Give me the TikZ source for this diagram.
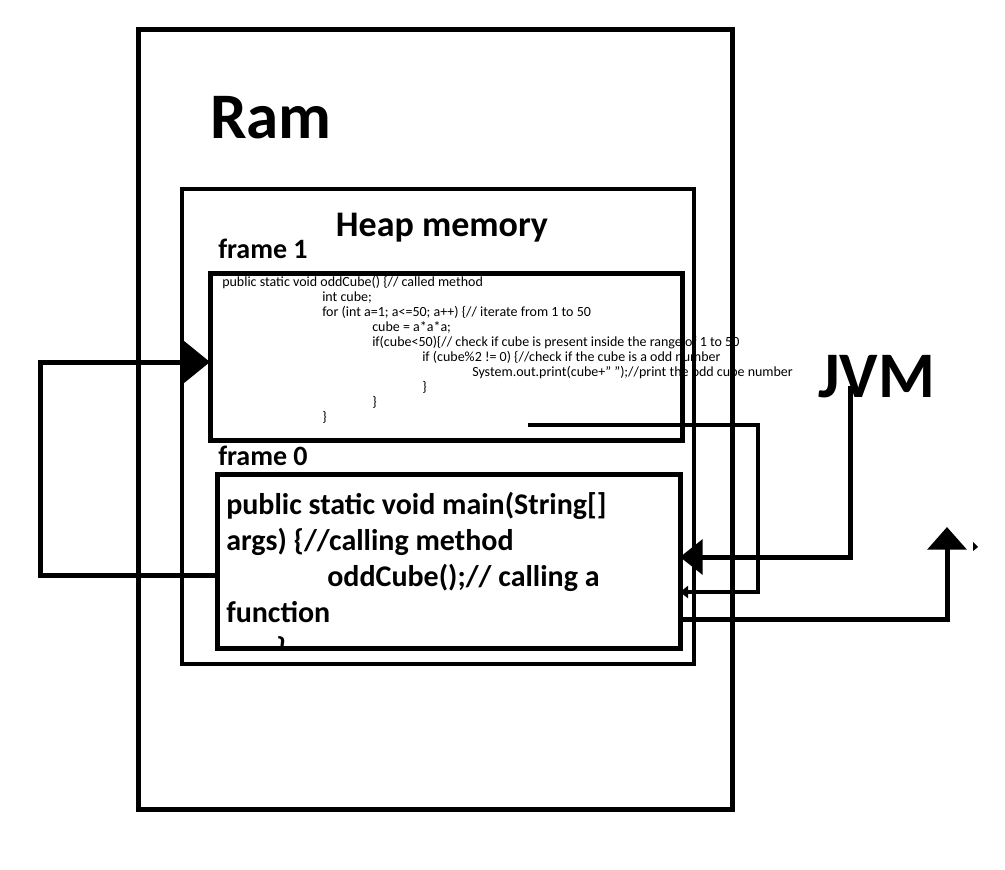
\documentclass[tikz,border=0pt]{standalone}
\usepackage{fontspec}
\setmainfont{Carlito}
\usetikzlibrary{arrows.meta,positioning,calc}

\begin{document}
\begin{tikzpicture}[
  x=0.75pt, y=-0.75pt,
  box/.style={draw, line width=3.75pt, inner sep=0pt, outer sep=0pt},
  wire/.style={line width=3.75pt},
  big/.style={font=\bfseries\fontsize{48.75}{52}\selectfont, inner sep=0pt, anchor=base west},
  lbl/.style={font=\bfseries\fontsize{21}{24}\selectfont, inner sep=0pt, anchor=base west},
  code/.style={align=left, inner sep=0pt, anchor=base west}
]
\fill[white] (0,0) rectangle (1005,869);
\useasboundingbox (0,0) rectangle (1005,869);

% code of the called method (drawn first, the lines run over it)
% (base of a multi-line node = last line)
\node[code, font=\fontsize{10.5}{11.25}\selectfont] (oddcode) at (222,421)
  {public static void oddCube() \{// called method\\
   \hspace*{75pt}int cube;\\
   \hspace*{75pt}for (int a=1; a<=50; a++) \{// iterate from 1 to 50\\
   \hspace*{112.5pt}cube = a*a*a;\\
   \hspace*{112.5pt}if(cube<50)\{// check if cube is present inside the range of 1 to 50\\
   \hspace*{150pt}if (cube\%2 != 0) \{//check if the cube is a odd number\\
   \hspace*{187.5pt}System.out.print(cube+" ");//print the odd cube number\\
   \hspace*{150pt}\}\\
   \hspace*{112.5pt}\}\\
   \hspace*{75pt}\}};

% boxes
\node[box, minimum width=0.75*594pt, minimum height=0.75*780pt] (ram) at (435,419) {};
\node[box, line width=3pt, minimum width=0.75*512pt, minimum height=0.75*475pt] (heap) at (438,426.5) {};
\node[box, minimum width=0.75*472pt, minimum height=0.75*167pt] (frame1) at (446,356.5) {};
\node[box, minimum width=0.75*463pt, minimum height=0.75*174pt] (frame0) at (448.5,561.5) {};

\begin{scope}
  \clip (frame0.north west) rectangle (frame0.south east);
  \node[code, font=\bfseries\fontsize{22.5}{27}\selectfont] (maincode) at (226,658)
    {public static void main(String[]\\
     args) \{//calling method\\
     \hspace*{75.75pt}oddCube();// calling a\\
     function\\
     \hspace*{37.5pt}\}};
\end{scope}

% labels
\node[big] (ramlbl) at (210,138) {Ram};
\node[big] (jvm) at (818,397) {JVM};
\node[font=\bfseries\fontsize{27}{30}\selectfont, inner sep=0pt, anchor=base] (heaplbl) at (442,236) {Heap memory};
\node[lbl] (f1lbl) at (218,258) {frame 1};
\node[lbl] (f0lbl) at (218,465) {frame 0};

% call from frame 0 into frame 1
\coordinate (loopB) at (40,575);
\coordinate (loopT) at (40,362);
\draw[wire, -{Triangle[length=20pt,width=31.5pt]}]
  (frame0.west |- loopB) -- (loopB) -- (loopT) -- (frame1.west |- loopT);

% JVM into frame 0
\coordinate (jvmB) at (850,557);
\draw[wire, -{Triangle[length=17pt,width=26pt]}]
  ($(jvm.south -| jvmB)+(0,-12)$) -- (jvmB) -- (frame0.east |- jvmB);

% return from frame 1
\coordinate (retA) at (528,425);
\coordinate (retB) at (758,592);
\draw[line width=3pt, -{Triangle[length=6pt,width=9pt]}]
  (retA) -- (retB |- retA) -- (retB) -- (frame0.east |- retB);

% out of frame 0
\coordinate (outB) at (947,619);
\coordinate (outT) at (947,527);
\draw[wire, -{Triangle[length=17pt,width=29pt]}]
  (frame0.east |- outB) -- (outB) -- (outT);
\fill (973,542) -- (978,547) -- (973,551) -- cycle;
\end{tikzpicture}
\end{document}
